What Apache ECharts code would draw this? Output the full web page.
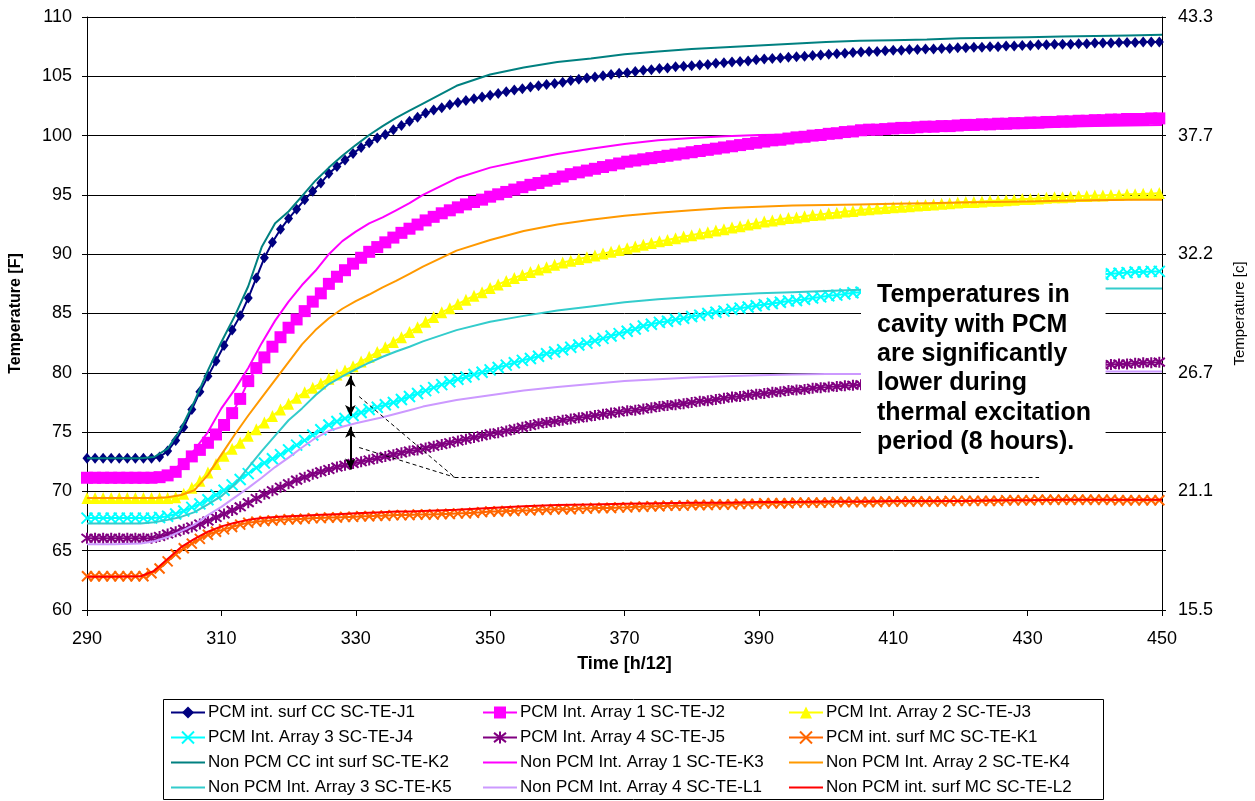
<!DOCTYPE html>
<html>
<head>
<meta charset="utf-8">
<script src="https://cdn.jsdelivr.net/npm/echarts@6/dist/echarts.min.js"></script>
<style>
html,body{margin:0;padding:0;background:#fff;}
#c{width:1255px;height:801px;}
</style>
</head>
<body>
<div id="c"></div>
<script>
// ---------- DATA ----------
// sampling times of marker (PCM) series, every 1.2 units of h/12
const tFine = Array.from({length: 134}, (_, i) => +(290 + 1.2 * i).toFixed(1));
// sampling times of the line-only (Non PCM) series
const tLine = [290,294,298,300,302,304,306,308,310,312,314,316,318,320,322,324,326,328,330,332,334,336,338,340,
  345,350,355,360,365,370,375,380,385,390,395,400,405,410,415,420,425,430,435,440,445,450];

const xTicks = [290,310,330,350,370,390,410,430,450];
const rightLabels = {60:'15.5',70:'21.1',80:'26.7',90:'32.2',100:'37.7',110:'43.3'};

const J1 = [72.8,72.8,72.8,72.8,72.8,72.8,72.8,72.8,72.8,72.9,
  73.4,74.3,75.4,76.9,78.4,79.7,81.0,82.3,83.6,84.8,
  86.3,88.0,89.7,91.0,92.1,93.0,93.8,94.6,95.3,96.0,
  96.8,97.4,97.95,98.5,99.0,99.4,99.8,100.1,100.5,100.85,
  101.2,101.55,101.9,102.15,102.35,102.6,102.8,102.95,103.1,103.25,
  103.4,103.55,103.7,103.85,103.95,104.1,104.2,104.3,104.4,104.5,
  104.65,104.75,104.85,104.95,105.05,105.15,105.25,105.3,105.4,105.5,
  105.55,105.65,105.7,105.8,105.85,105.9,105.95,106.0,106.1,106.15,
  106.2,106.25,106.3,106.4,106.45,106.5,106.55,106.6,106.65,106.7,
  106.75,106.8,106.85,106.9,106.95,107.0,107.05,107.1,107.1,107.15,
  107.2,107.2,107.25,107.25,107.3,107.3,107.35,107.35,107.4,107.4,
  107.45,107.45,107.5,107.5,107.55,107.55,107.6,107.6,107.65,107.65,
  107.7,107.7,107.7,107.75,107.75,107.8,107.8,107.8,107.85,107.85,
  107.85,107.9,107.9,107.9];

const J2 = [71.15,71.15,71.15,71.15,71.15,71.15,71.15,71.15,71.15,71.2,
  71.35,71.65,72.3,72.95,73.5,74.1,74.8,75.6,76.6,77.8,
  79.3,80.4,81.3,82.2,83.0,83.8,84.5,85.2,86.0,86.7,
  87.5,88.1,88.65,89.2,89.7,90.2,90.6,91.0,91.4,91.8,
  92.15,92.5,92.85,93.15,93.45,93.7,93.95,94.2,94.4,94.6,
  94.85,95.05,95.25,95.45,95.65,95.85,96.0,96.2,96.35,96.55,
  96.75,96.9,97.05,97.2,97.35,97.5,97.65,97.8,97.9,98.0,
  98.1,98.2,98.3,98.4,98.5,98.6,98.7,98.8,98.9,99.0,
  99.1,99.2,99.3,99.4,99.5,99.6,99.65,99.75,99.85,99.9,
  100.0,100.05,100.15,100.2,100.3,100.35,100.45,100.5,100.5,100.55,
  100.6,100.65,100.65,100.7,100.75,100.75,100.8,100.8,100.85,100.9,
  100.9,100.95,100.95,101.0,101.0,101.05,101.05,101.1,101.1,101.15,
  101.15,101.2,101.2,101.25,101.25,101.3,101.3,101.35,101.35,101.4,
  101.4,101.4,101.45,101.45];

const J3 = [69.45,69.45,69.45,69.45,69.45,69.45,69.45,69.45,69.45,69.45,
  69.45,69.5,69.8,70.3,70.9,71.6,72.3,73.0,73.6,74.1,
  74.7,75.25,75.8,76.35,76.9,77.4,77.9,78.35,78.75,79.1,
  79.5,79.85,80.2,80.55,80.95,81.35,81.75,82.15,82.6,83.0,
  83.45,83.85,84.3,84.7,85.1,85.45,85.8,86.15,86.5,86.8,
  87.15,87.45,87.75,88.0,88.25,88.5,88.7,88.9,89.1,89.3,
  89.45,89.6,89.75,89.9,90.05,90.2,90.35,90.5,90.65,90.8,
  90.95,91.1,91.2,91.35,91.5,91.6,91.75,91.85,92.0,92.1,
  92.25,92.35,92.5,92.6,92.75,92.85,92.95,93.05,93.1,93.2,
  93.3,93.35,93.45,93.5,93.6,93.65,93.75,93.8,93.85,93.9,
  93.95,94.0,94.05,94.1,94.15,94.2,94.25,94.3,94.35,94.4,
  94.4,94.45,94.5,94.5,94.55,94.6,94.65,94.65,94.7,94.75,
  94.8,94.8,94.85,94.9,94.9,94.95,94.95,95.0,95.0,95.05,
  95.05,95.1,95.1,95.15];

const J4 = [67.75,67.75,67.75,67.75,67.75,67.75,67.75,67.75,67.75,67.8,
  67.9,68.1,68.35,68.65,68.95,69.3,69.7,70.1,70.55,71.0,
  71.5,72.0,72.4,72.75,73.1,73.5,73.9,74.3,74.75,75.2,
  75.6,75.9,76.15,76.4,76.65,76.9,77.1,77.3,77.5,77.75,
  78.0,78.25,78.5,78.75,79.0,79.25,79.45,79.65,79.85,80.05,
  80.25,80.45,80.65,80.85,81.05,81.2,81.4,81.6,81.75,81.95,
  82.15,82.35,82.5,82.7,82.9,83.1,83.3,83.5,83.7,83.95,
  84.1,84.25,84.35,84.5,84.6,84.75,84.85,85.0,85.1,85.2,
  85.35,85.45,85.55,85.65,85.75,85.85,85.95,86.05,86.1,86.2,
  86.3,86.4,86.5,86.55,86.65,86.75,86.8,86.85,86.9,86.95,
  87.0,87.05,87.1,87.15,87.2,87.25,87.3,87.35,87.4,87.45,
  87.5,87.55,87.6,87.65,87.7,87.75,87.8,87.85,87.9,87.95,
  88.0,88.05,88.1,88.15,88.2,88.25,88.3,88.35,88.4,88.45,
  88.5,88.5,88.55,88.55];

const J5 = [66.05,66.05,66.05,66.05,66.05,66.05,66.05,66.05,66.05,66.2,
  66.4,66.6,66.8,67.0,67.25,67.5,67.8,68.1,68.4,68.7,
  69.05,69.4,69.75,70.05,70.35,70.65,70.95,71.2,71.45,71.65,
  71.85,72.05,72.2,72.35,72.5,72.65,72.8,72.95,73.1,73.25,
  73.4,73.5,73.65,73.8,73.95,74.1,74.25,74.4,74.55,74.7,
  74.85,74.95,75.1,75.25,75.4,75.55,75.7,75.8,75.9,76.0,
  76.1,76.2,76.3,76.4,76.5,76.6,76.7,76.8,76.85,76.95,
  77.05,77.15,77.25,77.3,77.4,77.5,77.6,77.65,77.75,77.85,
  77.95,78.0,78.1,78.2,78.25,78.35,78.4,78.5,78.55,78.6,
  78.7,78.75,78.8,78.85,78.9,78.95,79.0,79.05,79.1,79.2,
  79.25,79.3,79.35,79.4,79.45,79.5,79.55,79.6,79.65,79.7,
  79.75,79.8,79.85,79.9,79.95,80.0,80.05,80.1,80.15,80.2,
  80.25,80.3,80.35,80.45,80.5,80.55,80.65,80.7,80.75,80.75,
  80.8,80.85,80.85,80.9];

const K1 = [62.85,62.85,62.85,62.85,62.85,62.85,62.85,62.85,63.1,63.5,
  64.1,64.7,65.2,65.6,66.0,66.35,66.6,66.8,67.0,67.2,
  67.35,67.45,67.5,67.55,67.6,67.65,67.65,67.7,67.75,67.75,
  67.8,67.8,67.85,67.85,67.9,67.9,67.95,67.95,68.0,68.0,
  68.0,68.05,68.05,68.05,68.1,68.1,68.15,68.15,68.2,68.25,
  68.3,68.3,68.35,68.35,68.4,68.4,68.45,68.45,68.5,68.5,
  68.5,68.55,68.55,68.6,68.6,68.6,68.65,68.65,68.7,68.7,
  68.75,68.75,68.8,68.8,68.8,68.85,68.85,68.85,68.9,68.9,
  68.9,68.95,68.95,68.95,69.0,69.0,69.0,69.0,69.05,69.05,
  69.05,69.05,69.05,69.1,69.1,69.1,69.1,69.1,69.1,69.15,
  69.15,69.15,69.15,69.15,69.15,69.15,69.15,69.2,69.2,69.2,
  69.2,69.2,69.2,69.2,69.25,69.25,69.25,69.25,69.3,69.3,
  69.3,69.3,69.3,69.3,69.3,69.3,69.3,69.3,69.25,69.25,
  69.25,69.25,69.25,69.25];

const K2 = [72.8,72.8,72.8,72.9,73.6,75.3,77.6,80.2,82.6,84.8,87.3,90.6,92.6,93.6,94.9,96.2,97.3,98.3,99.2,100.05,
  100.8,101.5,102.1,102.7,104.2,105.15,105.75,106.2,106.5,106.85,107.1,107.3,107.45,107.6,107.75,107.9,108.0,
  108.05,108.1,108.2,108.25,108.3,108.35,108.4,108.45,108.5];
const K3 = [71.15,71.15,71.15,71.15,71.5,72.3,73.5,75.0,77.0,78.6,80.4,82.5,84.4,86.0,87.4,88.6,90.0,91.1,91.9,92.6,
  93.1,93.7,94.3,95.0,96.4,97.3,97.9,98.45,98.9,99.3,99.6,99.8,99.95,100.05,100.1,100.2,100.3,
  100.35,100.45,100.5,100.6,100.65,100.75,100.8,100.85,100.9];
const K4 = [69.45,69.45,69.45,69.45,69.5,69.7,70.1,71.4,73.1,74.8,76.4,77.9,79.4,80.9,82.4,83.6,84.6,85.4,86.05,86.6,
  87.2,87.75,88.35,88.95,90.3,91.2,91.95,92.5,92.9,93.25,93.5,93.7,93.9,94.0,94.1,94.15,94.2,
  94.25,94.3,94.35,94.4,94.45,94.5,94.55,94.6,94.6];
const K5 = [67.3,67.3,67.3,67.4,67.6,67.85,68.25,68.9,69.6,70.6,72.0,73.4,74.7,76.0,77.0,78.1,79.05,79.7,80.3,80.85,
  81.35,81.8,82.2,82.65,83.6,84.3,84.8,85.25,85.6,85.95,86.2,86.4,86.55,86.7,86.8,86.9,87.0,
  87.0,87.05,87.05,87.05,87.1,87.1,87.1,87.1,87.1];
const L1 = [65.55,65.55,65.6,65.8,66.15,66.65,67.2,68.0,68.7,69.5,70.3,71.15,72.05,72.85,73.7,74.5,75.1,75.45,75.75,76.0,
  76.25,76.55,76.85,77.15,77.7,78.1,78.5,78.8,79.05,79.3,79.45,79.6,79.7,79.8,79.85,79.9,79.9,
  79.95,79.95,80.0,80.0,80.05,80.05,80.1,80.1,80.1];
const L2 = [62.8,62.8,62.85,63.3,64.3,65.3,66.0,66.6,67.05,67.35,67.6,67.75,67.85,67.9,67.95,68.0,68.05,68.1,68.15,68.2,
  68.25,68.3,68.3,68.35,68.45,68.6,68.75,68.85,68.9,68.95,69.0,69.05,69.05,69.1,69.1,69.15,69.15,
  69.2,69.2,69.2,69.25,69.25,69.3,69.3,69.3,69.3];

const names = {
  J1:'PCM int. surf CC SC-TE-J1', J2:'PCM Int. Array 1 SC-TE-J2', J3:'PCM Int. Array 2 SC-TE-J3',
  J4:'PCM Int. Array 3 SC-TE-J4', J5:'PCM Int. Array 4 SC-TE-J5', K1:'PCM int. surf MC SC-TE-K1',
  K2:'Non PCM CC int surf SC-TE-K2', K3:'Non PCM Int. Array 1 SC-TE-K3', K4:'Non PCM Int. Array 2 SC-TE-K4',
  K5:'Non PCM Int. Array 3 SC-TE-K5', L1:'Non PCM Int. Array 4 SC-TE-L1', L2:'Non PCM int. surf MC SC-TE-L2'
};
const lineOnly = ['K2','K3','K4','K5','L1','L2'];
const noteLines = ['Temperatures in','cavity with PCM','are significantly','lower during','thermal excitation','period (8 hours).'];

// ---------- CHART ----------
const FONT = '"Liberation Sans", Arial, sans-serif';
const X_SYM = 'path://M0,0L10,10M10,0L0,10';
const AST_SYM = 'path://M0,0L10,10M10,0L0,10M5,-1.5L5,11.5';

function zip(ts, vs){ return ts.map((t,i)=>[t, vs[i]]); }

function markerSeries(key, vals, color, symbol, size, z, stroke){
  return {
    name: names[key], type:'line', data: zip(tFine, vals),
    symbol: symbol, symbolSize: size, showSymbol: true,
    lineStyle:{color: color, width: 2},
    itemStyle: stroke ? {color: color, borderColor: color, borderWidth: 2} : {color: color, borderWidth: 0},
    z: z, animation:false, silent:true
  };
}
function lineSeries(key, vals, color, z){
  return {
    name: names[key], type:'line', data: zip(tLine, vals),
    symbol:'none', showSymbol:false,
    lineStyle:{color: color, width: 2},
    itemStyle:{color: color},
    z: z, animation:false, silent:true
  };
}

const series = [
  markerSeries('J1', J1, '#000080', 'diamond', [9,11], 2),
  markerSeries('J2', J2, '#FF00FF', 'rect', 12, 2.1),
  markerSeries('J3', J3, '#FFFF00', 'triangle', [11,12], 2.2),
  markerSeries('J4', J4, '#00FFFF', X_SYM, 11, 2.3, true),
  markerSeries('J5', J5, '#800080', AST_SYM, 11, 2.4, true),
  markerSeries('K1', K1, '#FF6600', X_SYM, 10, 2.5, true),
  lineSeries('K2', K2, '#008080', 2.6),
  lineSeries('K3', K3, '#FF00FF', 2.7),
  lineSeries('K4', K4, '#FF9900', 2.8),
  lineSeries('K5', K5, '#33CCCC', 2.9),
  lineSeries('L1', L1, '#CC99FF', 3.0),
  lineSeries('L2', L2, '#FF0000', 3.1),
  {
    name:'annot', type:'line', data:[], z:5, silent:true, animation:false,
    markLine:{
      silent:true, animation:false, label:{show:false},
      data:[
        [{coord:[329.2,79.75], symbol:'arrow', symbolSize:[8,11], lineStyle:{color:'#000',width:2,type:'solid'}},
         {coord:[329.2,76.35], symbol:'arrow', symbolSize:[8,11]}],
        [{coord:[329.2,75.45], symbol:'arrow', symbolSize:[8,11], lineStyle:{color:'#000',width:2,type:'solid'}},
         {coord:[329.2,71.85], symbol:'arrow', symbolSize:[8,11]}],
        [{coord:[330.5,78.0], symbol:'none', lineStyle:{color:'#000',width:1,type:[4,3]}},{coord:[344.7,71.2], symbol:'none'}],
        [{coord:[330.5,73.7], symbol:'none', lineStyle:{color:'#000',width:1,type:[4,3]}},{coord:[344.7,71.2], symbol:'none'}],
        [{coord:[344.7,71.2], symbol:'none', lineStyle:{color:'#000',width:1,type:[4,3]}},{coord:[431.7,71.2], symbol:'none'}]
      ]
    }
  }
];

function legendCol(left, keys){
  return {
    orient:'vertical', left: left, top: 704, padding: 0, itemGap: 8, itemWidth: 34, itemHeight: 15,
    data: keys.map(k => lineOnly.indexOf(k) >= 0 ? {name: names[k], itemStyle:{opacity:0}} : {name: names[k]}),
    selectedMode:false,
    textStyle:{fontFamily: FONT, fontSize: 17, color:'#000', padding:[0,0,0,-2]}
  };
}

const option = {
  backgroundColor:'#fff',
  animation:false,
  grid:{left:83, right:89, top:17, bottom:191, containLabel:false},
  xAxis:{
    type:'value', min:290, max:450, interval:20,
    name:'Time [h/12]', nameLocation:'middle', nameGap:45,
    nameTextStyle:{fontFamily:FONT, fontWeight:'bold', fontSize:18, color:'#000'},
    axisLine:{show:true, onZero:false, lineStyle:{color:'#000', width:1}},
    axisTick:{show:true, inside:false, length:6, lineStyle:{color:'#000'}},
    axisLabel:{fontFamily:FONT, fontSize:18, color:'#000', margin:20,
      formatter: v => xTicks.indexOf(v) >= 0 ? String(v) : ''},
    splitLine:{show:false}
  },
  yAxis:[
    {
      type:'value', min:60, max:110, interval:5, position:'left',
      name:'Temperature [F]', nameLocation:'middle', nameGap:63, nameRotate:90,
      nameTextStyle:{fontFamily:FONT, fontWeight:'bold', fontSize:16, color:'#000'},
      axisLine:{show:true, lineStyle:{color:'#000', width:1}},
      axisTick:{show:true, inside:false, length:5, lineStyle:{color:'#000'}},
      axisLabel:{fontFamily:FONT, fontSize:18, color:'#000', margin:15},
      splitLine:{show:true, lineStyle:{color:'#000', width:1}}
    },
    {
      type:'value', min:60, max:110, interval:5, position:'right',
      name:'Temperature [c]', nameLocation:'middle', nameGap:70, nameRotate:90,
      nameTextStyle:{fontFamily:FONT, fontSize:15, color:'#000'},
      axisLine:{show:true, lineStyle:{color:'#000', width:1}},
      axisTick:{show:true, inside:false, length:4, lineStyle:{color:'#000'}},
      axisLabel:{fontFamily:FONT, fontSize:18, color:'#000', margin:16,
        formatter: v => rightLabels[v] !== undefined ? rightLabels[v] : ''},
      splitLine:{show:false}
    }
  ],
  legend:[
    legendCol(170, ['J1','J4','K2','K5']),
    legendCol(482, ['J2','J5','K3','L1']),
    legendCol(788, ['J3','K1','K4','L2'])
  ],
  series: series
};

const chart = echarts.init(document.getElementById('c'), null, {renderer:'canvas'});
chart.setOption(option);

// annotation box anchored to data coordinates
const a = chart.convertToPixel({gridIndex:0}, [405.2, 89.4]);
const b = chart.convertToPixel({gridIndex:0}, [441.6, 71.9]);
chart.setOption({
  graphic:[
    {type:'rect', z:100, silent:true,
      shape:{x:a[0], y:a[1], width:b[0]-a[0], height:b[1]-a[1]},
      style:{fill:'#fff', stroke:null}},
    {type:'text', z:101, silent:true, x:a[0]+16, y:a[1]+19.5,
      style:{text: noteLines.join('\n'), font:'bold 25px ' + FONT, lineHeight:29.3, fill:'#000'}},
    {type:'rect', z:0, silent:true,
      shape:{x:163.5, y:699.5, width:940, height:100},
      style:{fill:null, stroke:'#000', lineWidth:1}}
  ]
});
</script>
</body>
</html>
